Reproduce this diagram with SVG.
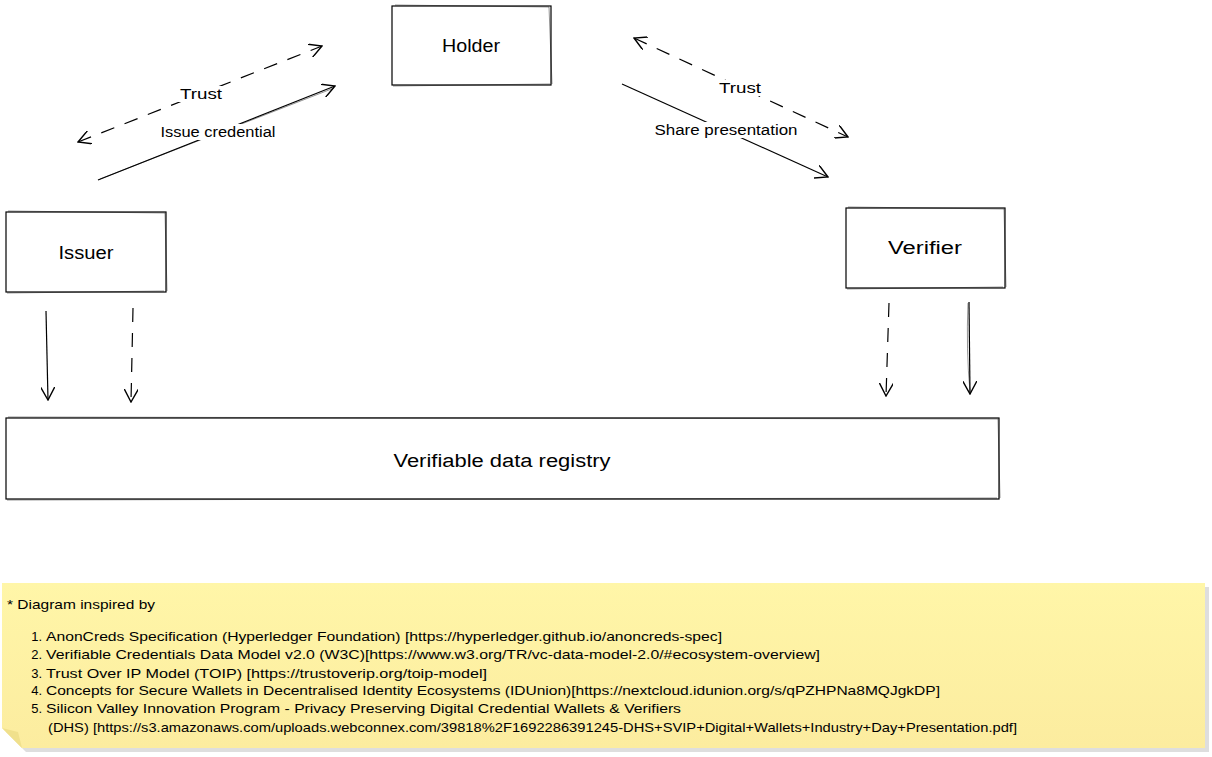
<svg xmlns="http://www.w3.org/2000/svg" width="1212" height="757" viewBox="0 0 1212 757">
<style>
.box{fill:#fff;stroke:#000;stroke-width:1.2}
.sk{fill:none;stroke:#000;stroke-width:0.7;opacity:0.6}
.nt{font-family:"Liberation Sans",Arial,sans-serif;font-size:18px;fill:#000;text-anchor:middle}
.lb{font-family:"Liberation Sans",Arial,sans-serif;font-size:14px;fill:#000;text-anchor:middle}
.ln{fill:none;stroke:#000;stroke-width:1.2}
.ds{stroke-dasharray:14 11}
.note{font-family:"Liberation Sans",Arial,sans-serif;font-size:13px;fill:#000}
.num{text-anchor:end}
</style>
<defs>
<marker id="ah" viewBox="0 0 12 12" refX="11" refY="6" markerWidth="14" markerHeight="14" markerUnits="userSpaceOnUse" orient="auto-start-reverse">
<path d="M0,0 L11,6 L0,12" fill="none" stroke="#000" stroke-width="1.2"/>
</marker>
<linearGradient id="ng" x1="0" y1="0" x2="0" y2="1">
<stop offset="0" stop-color="#fff6a8"/>
<stop offset="1" stop-color="#fcec9f"/>
</linearGradient>
</defs>

<g id="connectors">
<path class="ln ds" d="M78,142 L322,46" marker-start="url(#ah)" marker-end="url(#ah)"/>
<path class="ln" d="M98,180 L335,86" marker-end="url(#ah)"/>
<path class="sk" d="M100,179 L334,88"/>
<path class="ln ds" d="M634,38 L848,137" marker-start="url(#ah)" marker-end="url(#ah)"/>
<path class="ln" d="M622,84 L828,177" marker-end="url(#ah)"/>
<path class="ln" d="M46,311 L48,400" marker-end="url(#ah)"/>
<path class="ln ds" d="M133,308 L131,402" marker-end="url(#ah)"/>
<path class="ln ds" d="M889,303 L886,396" marker-end="url(#ah)"/>
<path class="ln" d="M969,302 L970,394" marker-end="url(#ah)"/>
<path class="sk" d="M968,303 Q966,350 970,392"/>
<rect x="178" y="86" width="46" height="16" fill="#fff"/>
<text class="lb" x="201" y="99" textLength="42" lengthAdjust="spacingAndGlyphs">Trust</text>
<rect x="159" y="124" width="120" height="16" fill="#fff"/>
<text class="lb" x="218" y="137" textLength="115" lengthAdjust="spacingAndGlyphs">Issue credential</text>
<rect x="717" y="80" width="46" height="16" fill="#fff"/>
<text class="lb" x="740" y="93" textLength="42" lengthAdjust="spacingAndGlyphs">Trust</text>
<rect x="653" y="122" width="147" height="16" fill="#fff"/>
<text class="lb" x="726" y="135" textLength="143" lengthAdjust="spacingAndGlyphs">Share presentation</text>
</g>

<g id="holder">
<rect class="box" x="392" y="6" width="159" height="79"/>
<path class="sk" d="M395,5 L549,7 L552,84 M393,86 L550,84"/>
<text class="nt" x="471" y="52" textLength="58" lengthAdjust="spacingAndGlyphs">Holder</text>
</g>

<g id="issuer">
<rect class="box" x="6" y="212" width="160" height="80"/>
<path class="sk" d="M8,211 L165,213 L167,291 M7,293 L164,291"/>
<text class="nt" x="86" y="259" textLength="55" lengthAdjust="spacingAndGlyphs">Issuer</text>
</g>

<g id="verifier">
<rect class="box" x="846" y="208" width="159" height="80"/>
<path class="sk" d="M848,207 L1004,209 L1006,287 M847,289 L1003,287"/>
<text class="nt" x="925" y="254" textLength="74" lengthAdjust="spacingAndGlyphs">Verifier</text>
</g>

<g id="registry">
<rect class="box" x="6" y="418" width="993" height="81"/>
<path class="sk" d="M8,417 L998,419 L1000,498 M7,500 L997,498"/>
<text class="nt" x="502" y="467" textLength="217" lengthAdjust="spacingAndGlyphs">Verifiable data registry</text>
</g>

<g id="note">
<path d="M6,587 L1209,587 L1209,752 L26,752 L6,732 Z" fill="#c8c8c8" opacity="0.6"/>
<path d="M2,583 L1205,583 L1205,748 L22,748 L2,728 Z" fill="url(#ng)"/>
<path d="M2,728 L18,732 L22,748 Z" fill="#f0e08c"/>
<text class="note" x="7" y="609" textLength="148" lengthAdjust="spacingAndGlyphs">* Diagram inspired by</text>
<text class="note num" x="42" y="641">1.</text>
<text class="note" x="46" y="641" textLength="676" lengthAdjust="spacingAndGlyphs">AnonCreds Specification (Hyperledger Foundation) [https://hyperledger.github.io/anoncreds-spec]</text>
<text class="note num" x="42" y="659">2.</text>
<text class="note" x="46" y="659" textLength="774" lengthAdjust="spacingAndGlyphs">Verifiable Credentials Data Model v2.0 (W3C)[https://www.w3.org/TR/vc-data-model-2.0/#ecosystem-overview]</text>
<text class="note num" x="42" y="678">3.</text>
<text class="note" x="46" y="678" textLength="441" lengthAdjust="spacingAndGlyphs">Trust Over IP Model (TOIP) [https://trustoverip.org/toip-model]</text>
<text class="note num" x="42" y="695">4.</text>
<text class="note" x="46" y="695" textLength="894" lengthAdjust="spacingAndGlyphs">Concepts for Secure Wallets in Decentralised Identity Ecosystems (IDUnion)[https://nextcloud.idunion.org/s/qPZHPNa8MQJgkDP]</text>
<text class="note num" x="42" y="713">5.</text>
<text class="note" x="46" y="713" textLength="635" lengthAdjust="spacingAndGlyphs">Silicon Valley Innovation Program - Privacy Preserving Digital Credential Wallets &amp; Verifiers</text>
<text class="note" x="48" y="732" textLength="969" lengthAdjust="spacingAndGlyphs">(DHS) [https://s3.amazonaws.com/uploads.webconnex.com/39818%2F1692286391245-DHS+SVIP+Digital+Wallets+Industry+Day+Presentation.pdf]</text>
</g>
</svg>
